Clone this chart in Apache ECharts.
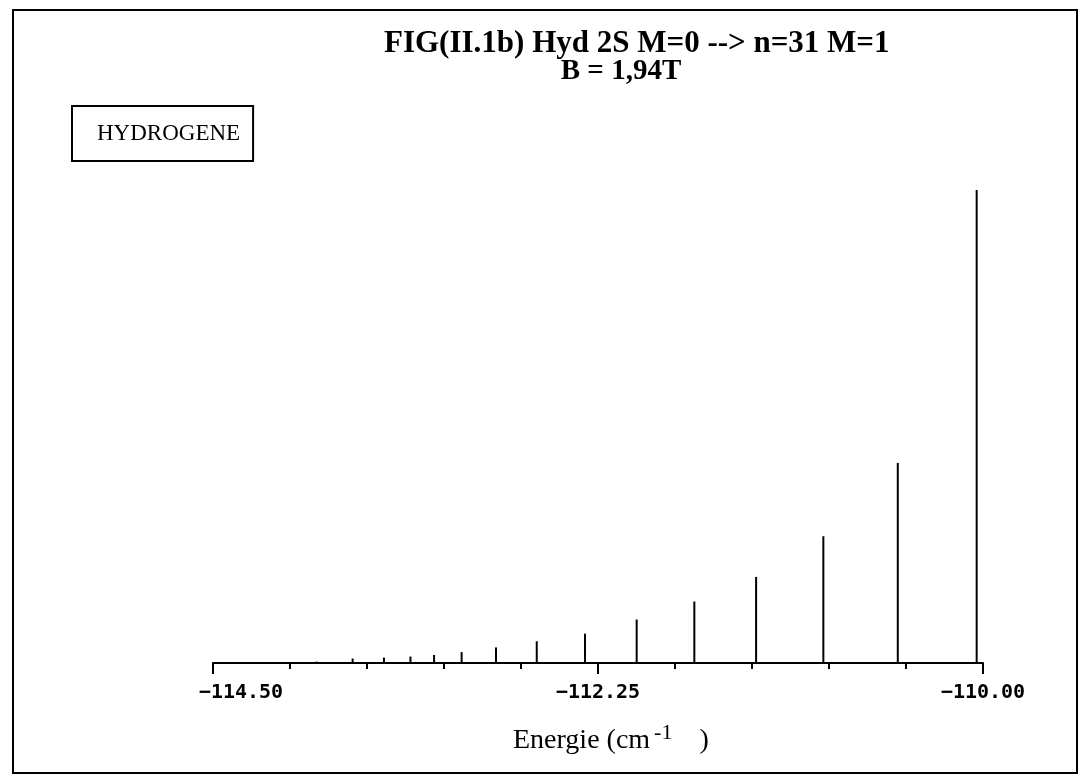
<!DOCTYPE html>
<html>
<head>
<meta charset="utf-8">
<title>FIG(II.1b) Hyd 2S M=0 --> n=31 M=1</title>
<script src="https://cdn.jsdelivr.net/npm/echarts@6/dist/echarts.min.js"></script>
<style>
  html, body { margin: 0; padding: 0; background: #fff; }
  #chart { width: 1081px; height: 779px; }
</style>
</head>
<body>
<div id="chart"></div>
<script>
// Line positions of the 2S (M=0) -> n=31 (M=1) transitions, cm-1
const energies = [
  -113.894, -113.684, -113.501, -113.346, -113.208, -113.047, -112.846,
  -112.608, -112.326, -112.024, -111.687, -111.326, -110.933, -110.498, -110.037
];
// Relative intensities (strongest line = 100)
const intensities = [
  0.3, 0.94, 1.15, 1.36, 1.7, 2.3, 3.3,
  4.6, 6.2, 9.2, 13.0, 18.2, 26.8, 42.3, 100
];
// Energy axis range and labelled ticks
const axisMin = -114.5;
const axisMax = -110.0;
const axisStep = 2.25;

const titleLine1 = 'FIG(II.1b) Hyd 2S M=0 --> n=31 M=1';
const titleLine2 = 'B = 1,94T';
const seriesName = 'HYDROGENE';

const chart = echarts.init(document.getElementById('chart'), null, { renderer: 'canvas' });

const spectrum = energies.map((e, i) => [e, intensities[i]]);

const labelFont = { fontFamily: 'DejaVu Sans Mono', fontWeight: 'bold', fontSize: 20, color: '#000' };

chart.setOption({
  backgroundColor: '#ffffff',
  animation: false,
  title: [
    {
      text: titleLine1,
      left: 384, top: 28, padding: 0,
      textStyle: { fontFamily: 'Liberation Serif', fontWeight: 'bold', fontSize: 31, color: '#000' }
    },
    {
      text: titleLine2,
      left: 621, top: 57, padding: 0, textAlign: 'center',
      textStyle: { fontFamily: 'Liberation Serif', fontWeight: 'bold', fontSize: 29, color: '#000' }
    },
    {
      text: '{a|Energie (cm}{s|-1}{a|  )}',
      left: 513, top: 722, padding: 0,
      textStyle: {
        fontWeight: 'normal',
        rich: {
          a: { fontFamily: 'Liberation Serif', fontWeight: 'normal', fontSize: 28, color: '#000', lineHeight: 34 },
          s: { fontFamily: 'Liberation Serif', fontWeight: 'normal', fontSize: 22, color: '#000', padding: [0, 13, 16, 4] }
        }
      }
    }
  ],
  legend: {
    data: [seriesName],
    left: 72, top: 106,
    orient: 'horizontal',
    selectedMode: false,
    itemWidth: 0, itemHeight: 0, itemGap: 0,
    padding: [16, 13, 16, 20],
    borderColor: '#000', borderWidth: 2,
    textStyle: { fontFamily: 'Liberation Serif', fontSize: 23, color: '#000' }
  },
  graphic: [
    {
      type: 'rect',
      shape: { x: 13, y: 10, width: 1064, height: 763 },
      style: { fill: null, stroke: '#000', lineWidth: 2 },
      silent: true
    }
  ],
  grid: { left: 213, right: 98, top: 190, bottom: 116 },
  xAxis: {
    type: 'value',
    min: axisMin,
    max: axisMax,
    interval: axisStep,
    axisLine: { show: true, lineStyle: { color: '#000', width: 2 } },
    axisTick: { show: true, length: 11, lineStyle: { color: '#000', width: 2 } },
    minorTick: { show: true, splitNumber: 5, length: 6, lineStyle: { color: '#000', width: 2 } },
    splitLine: { show: false },
    axisLabel: Object.assign({
      margin: 20,
      formatter: v => {
        const txt = v.toFixed(2).replace('-', '\u2212');
        // the first label sits to the right of its tick
        return v === axisMin ? '{first|' + txt + '}' : txt;
      },
      rich: {
        first: Object.assign({ padding: [0, 0, 0, 56] }, labelFont)
      }
    }, labelFont)
  },
  yAxis: {
    type: 'value', min: 0, max: 100, show: false
  },
  series: [
    {
      name: seriesName,
      type: 'bar',
      data: spectrum,
      barWidth: 2,
      itemStyle: { color: '#000' },
      legendIcon: 'none'
    }
  ]
});
</script>
</body>
</html>
